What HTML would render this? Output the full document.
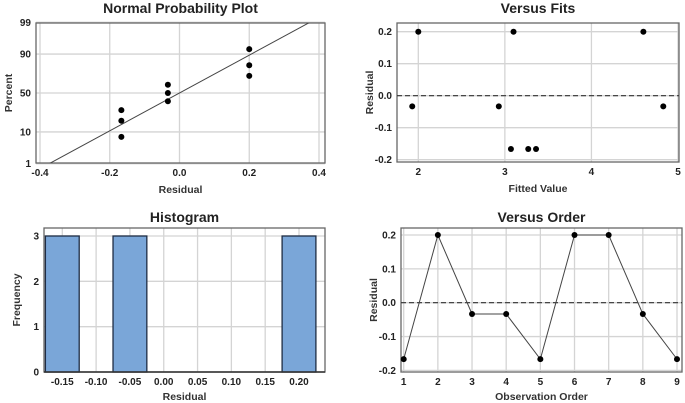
<!DOCTYPE html>
<html><head><meta charset="utf-8"><style>
body{margin:0;background:#fff;}
svg{display:block;font-family:"Liberation Sans",sans-serif;}
.t{font-size:14px;font-weight:bold;fill:#222;text-anchor:middle}
.tk{font-size:10px;fill:#222;font-weight:bold}
.ax{font-size:10.5px;fill:#333;text-anchor:middle;font-weight:bold}
</style></head><body>
<svg id="c" width="685" height="403" viewBox="0 0 685 403"></svg>
<script>
const order=[1,2,3,4,5,6,7,8,9];
const residuals=[-0.1667,0.2,-0.0333,-0.0333,-0.1667,0.2,0.2,-0.0333,-0.1667];
const fits=[3.07,2.0,1.93,2.93,3.27,3.1,4.6,4.83,3.36];
const histBins=[-0.15,-0.05,0.20];
const histCounts=[3,3,3];
const nppXTicks=[-0.4,-0.2,0.0,0.2,0.4];
const nppYTicks=[1,10,50,90,99];
const fitXTicks=[2,3,4,5];
const resYTicks=[-0.2,-0.1,0.0,0.1,0.2];
const histXTicks=[-0.15,-0.10,-0.05,0.00,0.05,0.10,0.15,0.20];
const histYTicks=[0,1,2,3];
const svg=document.getElementById('c');
const NS='http://www.w3.org/2000/svg';
function el(tag,attrs,parent,text){const e=document.createElementNS(NS,tag);for(const k in attrs)e.setAttribute(k,attrs[k]);if(text!==undefined)e.textContent=text;(parent||svg).appendChild(e);return e;}
function lin(d0,d1,r0,r1){return v=>r0+(v-d0)*(r1-r0)/(d1-d0);}
function ninv(p){
const a=[-39.6968302866538,220.946098424521,-275.928510446969,138.357751867269,-30.6647980661472,2.50662827745924],b=[-54.4760987982241,161.585836858041,-155.698979859887,66.8013118877197,-13.2806815528857],c=[-0.00778489400243029,-0.322396458041136,-2.40075827716184,-2.54973253934373,4.37466414146497,2.93816398269878],d=[0.00778469570904146,0.32246712907004,2.445134137143,3.75440866190742];
let q,r;if(p<0.02425){q=Math.sqrt(-2*Math.log(p));return(((((c[0]*q+c[1])*q+c[2])*q+c[3])*q+c[4])*q+c[5])/((((d[0]*q+d[1])*q+d[2])*q+d[3])*q+1);}
if(p>1-0.02425){q=Math.sqrt(-2*Math.log(1-p));return-(((((c[0]*q+c[1])*q+c[2])*q+c[3])*q+c[4])*q+c[5])/((((d[0]*q+d[1])*q+d[2])*q+d[3])*q+1);}
q=p-0.5;r=q*q;return(((((a[0]*r+a[1])*r+a[2])*r+a[3])*r+a[4])*r+a[5])*q/(((((b[0]*r+b[1])*r+b[2])*r+b[3])*r+b[4])*r+1);}
function frame(name,L,R,T,B,title,xt,yt,xticks,yticks,sx,sy,xfmt,yfmt,titleY,xtY){
  const g=el('g',{});
  
  
  xticks.forEach(v=>{const x=sx(v);el('line',{x1:x,x2:x,y1:T,y2:B,stroke:'#d4d4d4','stroke-width':1.3},g);
    const t=el('text',{x:x,y:B+13,'text-anchor':'middle',class:'tk'},g,xfmt(v));});
  yticks.forEach(v=>{const y=sy(v);el('line',{x1:L,x2:R,y1:y,y2:y,stroke:'#d4d4d4','stroke-width':1.3},g);
    const t=el('text',{x:L-5,y:y+3.5,'text-anchor':'end',class:'tk'},g,yfmt(v));});
  el('rect',{x:L,y:T,width:R-L,height:B-T,fill:'none',stroke:'#666','stroke-width':1.3},g);
  const ti=el('text',{x:(L+R)/2,y:titleY,class:'t'},g,title);
  const xa=el('text',{x:(L+R)/2,y:xtY,class:'ax'},g,xt);
  const ya=el('text',{x:0,y:0,class:'ax',transform:`translate(${L-24},${(T+B)/2}) rotate(-90)`},g,yt);
  return g;
}
function dot(g,x,y){const c=el('circle',{cx:x,cy:y,r:3,fill:'#000'},g);}
const f2=v=>v.toFixed(2),f1=v=>v.toFixed(1);
{const L=36,R=325,T=23,B=163;
 const sx=lin(-0.4,0.4,40,319);const zy=lin(0,1,93,93-30.4);const sy=p=>zy(ninv(p/100));
 const g=frame('normal-probability-plot',L,R,T,B,'Normal Probability Plot','Residual','Percent',nppXTicks,nppYTicks,sx,sy,f1,v=>String(v),13,193);
 const n=residuals.length;const mean=residuals.reduce((a,b)=>a+b,0)/n;
 const sd=Math.sqrt(residuals.reduce((a,b)=>a+(b-mean)**2,0)/(n-1));
 const z0=-2.326,z1=2.326;const clip=el('clipPath',{id:'cp1'},g);el('rect',{x:L,y:T,width:R-L,height:B-T},clip);
 const ln=el('line',{x1:sx(mean+sd*z0),y1:zy(z0),x2:sx(mean+sd*z1*1.05),y2:zy(z1*1.05),stroke:'#444','stroke-width':1,'clip-path':'url(#cp1)'},g);
 
 const s=residuals.slice().sort((a,b)=>a-b);
 s.forEach((v,i)=>dot(g,sx(v),zy(ninv((i+1-0.3)/(n+0.4)))));
}
{const L=397,R=679,T=23,B=162;
 const sx=lin(2,5,418.3,678);const sy=lin(0,0.2,95.7,31.7);
 const g=frame('versus-fits-plot',L,R,T,B,'Versus Fits','Fitted Value','Residual',fitXTicks,resYTicks,sx,sy,v=>String(v),f1,13,192);
 const z=el('line',{x1:L,x2:R,y1:sy(0),y2:sy(0),stroke:'#333','stroke-width':1.2,'stroke-dasharray':'5,3'},g);
 fits.forEach((f,i)=>dot(g,sx(f),sy(residuals[i])));
}
{const L=44,R=325,T=228,B=372;
 const sx=lin(-0.15,0.20,62.3,299);const sy=lin(0,3,372,236);
 const g=frame('histogram',L,R,T,B,'Histogram','Residual','Frequency',histXTicks,histYTicks,sx,sy,f2,v=>String(v),222,400);
 histBins.forEach((c,i)=>{const x0=sx(c-0.025),x1=sx(c+0.025);const r=el('rect',{x:x0,y:sy(histCounts[i]),width:x1-x0,height:sy(0)-sy(histCounts[i]),fill:'#7aa6d8',stroke:'#1f2d44','stroke-width':1.3},g);});
 el('line',{x1:L,x2:R,y1:B,y2:B,stroke:'#333','stroke-width':1.5},g);
}
{const L=401,R=682,T=228,B=372;
 const sx=lin(1,9,403.7,677);const sy=lin(0,0.2,302.7,235);
 const g=frame('versus-order-plot',L,R,T,B,'Versus Order','Observation Order','Residual',order,resYTicks,sx,sy,v=>String(v),f1,222,400);
 const z=el('line',{x1:L,x2:R,y1:sy(0),y2:sy(0),stroke:'#333','stroke-width':1.2,'stroke-dasharray':'5,3'},g);
 const p=el('polyline',{points:order.map((o,i)=>sx(o)+','+sy(residuals[i])).join(' '),fill:'none',stroke:'#444','stroke-width':1},g);
 
 order.forEach((o,i)=>dot(g,sx(o),sy(residuals[i])));
}
</script>
</body></html>
